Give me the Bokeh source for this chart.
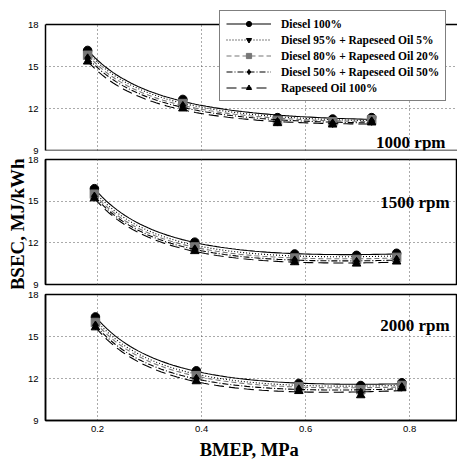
import numpy as np
from bokeh.plotting import figure
from bokeh.layouts import column
from bokeh.models import FixedTicker, Range1d, Label, Legend, LegendItem, Span
from bokeh.embed import file_html
from bokeh.resources import INLINE

series = ["Diesel 100%", "Diesel 95% + Rapeseed Oil 5%", "Diesel 80% + Rapeseed Oil 20%",
          "Diesel 50% + Rapeseed Oil 50%", "Rapeseed Oil 100%"]

x_ticks = [0.2, 0.4, 0.6, 0.8]
y_ticks = [9, 12, 15, 18]

bmep_1000 = [0.181, 0.364, 0.546, 0.652, 0.727]
bsec_1000_d100 = [16.15, 12.65, 11.35, 11.25, 11.35]
bsec_1000_d95 = [16.0, 12.5, 11.25, 11.15, 11.25]
bsec_1000_d80 = [15.8, 12.35, 11.15, 11.05, 11.2]
bsec_1000_d50 = [15.6, 12.2, 11.05, 10.95, 11.1]
bsec_1000_r100 = [15.35, 12.0, 10.95, 10.85, 11.0]

bmep_1500 = [0.194, 0.387, 0.579, 0.698, 0.775]
bsec_1500_d100 = [15.9, 12.05, 11.2, 11.1, 11.25]
bsec_1500_d95 = [15.7, 11.85, 11.05, 10.95, 11.1]
bsec_1500_d80 = [15.5, 11.7, 10.9, 10.8, 10.95]
bsec_1500_d50 = [15.35, 11.55, 10.75, 10.65, 10.8]
bsec_1500_r100 = [15.2, 11.4, 10.6, 10.5, 10.65]

bmep_2000 = [0.196, 0.390, 0.587, 0.706, 0.785]
bsec_2000_d100 = [16.4, 12.55, 11.65, 11.5, 11.7]
bsec_2000_d95 = [16.2, 12.35, 11.5, 11.35, 11.6]
bsec_2000_d80 = [16.0, 12.2, 11.4, 11.2, 11.5]
bsec_2000_d50 = [15.8, 12.0, 11.25, 11.0, 11.4]
bsec_2000_r100 = [15.65, 11.8, 11.1, 10.8, 11.3]

styles = [
    dict(dash="solid", color="black", marker="circle"),
    dict(dash="1 2", color="black", marker="inverted_triangle"),
    dict(dash="5 3", color="#777777", marker="square"),
    dict(dash="6 2 1 2", color="black", marker="diamond"),
    dict(dash="10 5", color="black", marker="triangle"),
]

SERIF = "Liberation Serif"
SANS = "Liberation Sans"
Y_LO, Y_HI = y_ticks[0], y_ticks[-1]


def trend(xs, ys):
    # least-squares trend line y = a + b/x + c*x through the measured points
    xs = np.asarray(xs, float)
    ys = np.asarray(ys, float)
    A = np.column_stack([np.ones_like(xs), 1.0 / xs, xs])
    coef, *_ = np.linalg.lstsq(A, ys, rcond=None)
    xf = np.linspace(xs.min(), xs.max(), 80)
    yf = coef[0] + coef[1] / xf + coef[2] * xf
    return xf, yf


def make_panel(bmep, data, rpm_text, rpm_x, rpm_y, height, top, bottom, show_x,
               with_legend, y_top_extra=0.0):
    p = figure(width=457, height=height, x_range=Range1d(0.1, 0.892),
               y_range=Range1d(Y_LO, Y_HI + y_top_extra),
               output_backend="svg", toolbar_location=None,
               min_border_left=45, min_border_right=0, min_border_top=top, min_border_bottom=bottom)
    p.background_fill_color = "white"
    p.border_fill_color = "white"
    if y_top_extra > 0:
        p.outline_line_color = None
        p.add_layout(Span(location=Y_HI, dimension="width", line_color="black", line_width=1.5))
        p.add_layout(Span(location=Y_LO, dimension="width", line_color="black", line_width=1.5))
        p.yaxis.bounds = (Y_LO, Y_HI)
    else:
        p.outline_line_color = "black"
        p.outline_line_width = 1.5
        p.outline_line_alpha = 1.0

    xt = FixedTicker(ticks=x_ticks)
    yt = FixedTicker(ticks=y_ticks)
    p.xaxis.ticker = xt
    p.yaxis.ticker = yt
    p.xgrid.ticker = xt
    p.ygrid.ticker = yt
    for g in (p.xgrid, p.ygrid):
        g.grid_line_color = "#555555"
        g.grid_line_dash = "1 3"
        g.grid_line_width = 1
    if y_top_extra > 0:
        xg = p.xgrid[0]
        if "cross_bounds" in xg.properties():
            xg.cross_bounds = (Y_LO, Y_HI)
    p.yaxis.major_tick_out = 0
    p.yaxis.major_tick_in = 0
    p.yaxis.minor_tick_out = 0
    p.yaxis.minor_tick_in = 0
    p.yaxis.axis_line_width = 1.5
    p.yaxis.major_label_standoff = 7
    p.yaxis.major_label_text_font = SANS
    p.yaxis.major_label_text_font_size = "9.5px"
    p.yaxis.major_label_text_color = "black"

    if show_x:
        p.xaxis.major_tick_out = 0
        p.xaxis.major_tick_in = 0
        p.xaxis.minor_tick_out = 0
        p.xaxis.minor_tick_in = 0
        p.xaxis.axis_line_width = 1.5
        p.xaxis.major_label_standoff = 5
        p.xaxis.major_label_text_font = SANS
        p.xaxis.major_label_text_font_size = "9.5px"
        p.xaxis.major_label_text_color = "black"
        p.xaxis.axis_label = "BMEP,  MPa"
        p.xaxis.axis_label_text_font = SERIF
        p.xaxis.axis_label_text_font_style = "bold"
        p.xaxis.axis_label_text_font_size = "18.5px"
        p.xaxis.axis_label_standoff = 5
        p.xaxis.axis_label_text_color = "black"
    else:
        p.xaxis.visible = False

    items = []
    for name, vals, st in zip(series, data, styles):
        xf, yf = trend(bmep, vals)
        ln = p.line(xf, yf, line_color=st["color"], line_dash=st["dash"], line_width=1.1)
        sc = p.scatter(bmep, vals, marker=st["marker"], size=8.5,
                       fill_color=st["color"], line_color=st["color"])
        items.append(LegendItem(label=name, renderers=[ln, sc]))

    p.add_layout(Label(x=rpm_x, y=rpm_y, text=rpm_text, text_align="right",
                       text_baseline="alphabetic", text_font=SERIF, text_font_style="bold",
                       text_font_size="17px", text_color="black"))

    if with_legend:
        lg = Legend(items=items, location=(174, 49))
        lg.glyph_width = 45
        lg.glyph_height = 13
        lg.label_height = 13
        lg.spacing = 3
        lg.padding = 6
        lg.margin = 0
        lg.label_standoff = 10
        lg.label_text_font = SERIF
        lg.label_text_font_style = "bold"
        lg.label_text_font_size = "11.5px"
        lg.label_text_color = "black"
        lg.border_line_color = "black"
        lg.border_line_width = 1
        lg.background_fill_color = "white"
        lg.background_fill_alpha = 1.0
        p.add_layout(lg)
    return p


# panel 1: frame extends 17px above the 18 line so the legend can sit over the border
p1 = make_panel(bmep_1000,
                [bsec_1000_d100, bsec_1000_d95, bsec_1000_d80, bsec_1000_d50, bsec_1000_r100],
                "1000 rpm", 0.869, 9.57, 154, 7, 4, False, True, y_top_extra=17 * 9 / 126)
p2 = make_panel(bmep_1500,
                [bsec_1500_d100, bsec_1500_d95, bsec_1500_d80, bsec_1500_d50, bsec_1500_r100],
                "1500 rpm", 0.877, 14.9, 135, 5, 5, False, False)
p3 = make_panel(bmep_2000,
                [bsec_2000_d100, bsec_2000_d95, bsec_2000_d80, bsec_2000_d50, bsec_2000_r100],
                "2000 rpm", 0.877, 15.79, 173, 5, 0, True, False)

p2.yaxis.axis_label = "BSEC,  MJ/kWh"
p2.yaxis.axis_label_text_font = SERIF
p2.yaxis.axis_label_text_font_style = "bold"
p2.yaxis.axis_label_text_font_size = "19px"
p2.yaxis.axis_label_text_color = "black"
p2.yaxis.axis_label_standoff = -3

layout = column(p1, p2, p3, spacing=0)
open("out.html", "w").write(file_html(layout, INLINE))
